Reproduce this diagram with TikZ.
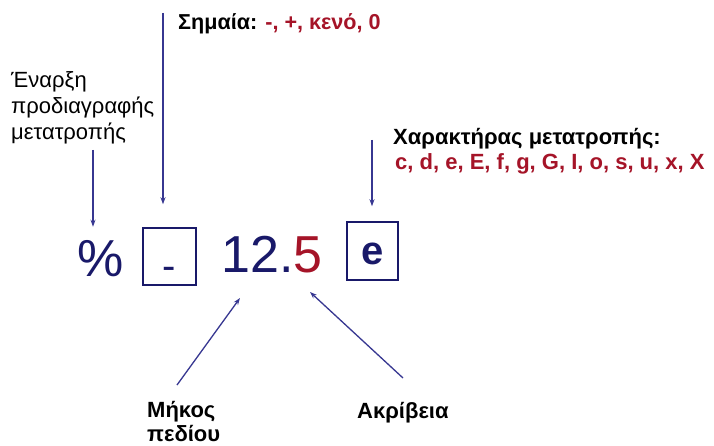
\documentclass[tikz,border=0pt]{standalone}
\usepackage{fontspec}
\setmainfont{Liberation Sans}
\usetikzlibrary{arrows.meta}
\definecolor{navy}{RGB}{25,25,105}
\definecolor{linec}{RGB}{55,55,145}
\definecolor{dred}{RGB}{165,20,40}
\begin{document}
\begin{tikzpicture}[x=1pt,y=-1pt,
  arr/.style={draw=linec, line width=1.3pt, -{Stealth[length=7pt,width=5pt]}},
  lbl/.style={inner sep=0pt, font=\fontsize{22}{26}\selectfont},
  blbl/.style={inner sep=0pt, font=\bfseries\fontsize{22}{24}\selectfont},
  big/.style={inner sep=0pt, text=navy, font=\fontsize{52}{52}\selectfont},
  fbox/.style={draw=navy, line width=1.5pt, text=navy, inner sep=0pt}]
\useasboundingbox[fill=white] (0,0) rectangle (714,446);

% labels
\node[blbl, anchor=base west, font=\bfseries\fontsize{21.6}{24}\selectfont] (flag) at (178,30) {Σημαία: \textcolor{dred}{-, +, κενό, 0}};
\node[lbl, anchor=north west, align=left] (start) at (11,71) {Έναρξη\\προδιαγραφής\\μετατροπής};
\node[blbl, anchor=base west] (conv) at (393,145) {Χαρακτήρας μετατροπής:};
\node[blbl, anchor=base west, text=dred] (convlist) at (395,170) {c, d, e, E, f, g, G, I, o, s, u, x, X};
\node[blbl, anchor=north west, align=left] (width) at (147,401) {Μήκος\\πεδίου};
\node[blbl, anchor=base west] (prec) at (357,418) {Ακρίβεια};

% format specifier
\node[big, anchor=base] (pct) at (101,276) {\%};
\node[fbox, minimum width=53pt, minimum height=57pt, text height=46pt, text depth=0pt, font=\fontsize{40}{40}\selectfont] (flagbox) at (169.5,256.5) {-};
\node[big, anchor=base west] (num) at (221,272) {12.\textcolor{dred}{5}};
\node[fbox, minimum width=51pt, minimum height=58pt, text height=26pt, text depth=0pt, font=\bfseries\fontsize{40}{40}\selectfont] (convbox) at (372.5,251) {e};

% connectors
\coordinate (flagtop) at (163,13);
\coordinate (starttail) at (93,150);
\coordinate (convtail) at (372,140);
\coordinate (widthtail) at (177,385);
\coordinate (prectail) at (403,378);
\coordinate (widthtip) at (240,298);
\coordinate (prectip) at (310,292);
\draw[arr] (flagtop) -- ([yshift=23pt]flagbox.north -| flagtop);
\draw[arr] (starttail) -- ([yshift=13pt]pct.north -| starttail);
\draw[arr] (convtail) -- ([yshift=15pt]convbox.north -| convtail);
\draw[arr] (widthtail) -- (widthtip);
\draw[arr] (prectail) -- (prectip);
\end{tikzpicture}
\end{document}
